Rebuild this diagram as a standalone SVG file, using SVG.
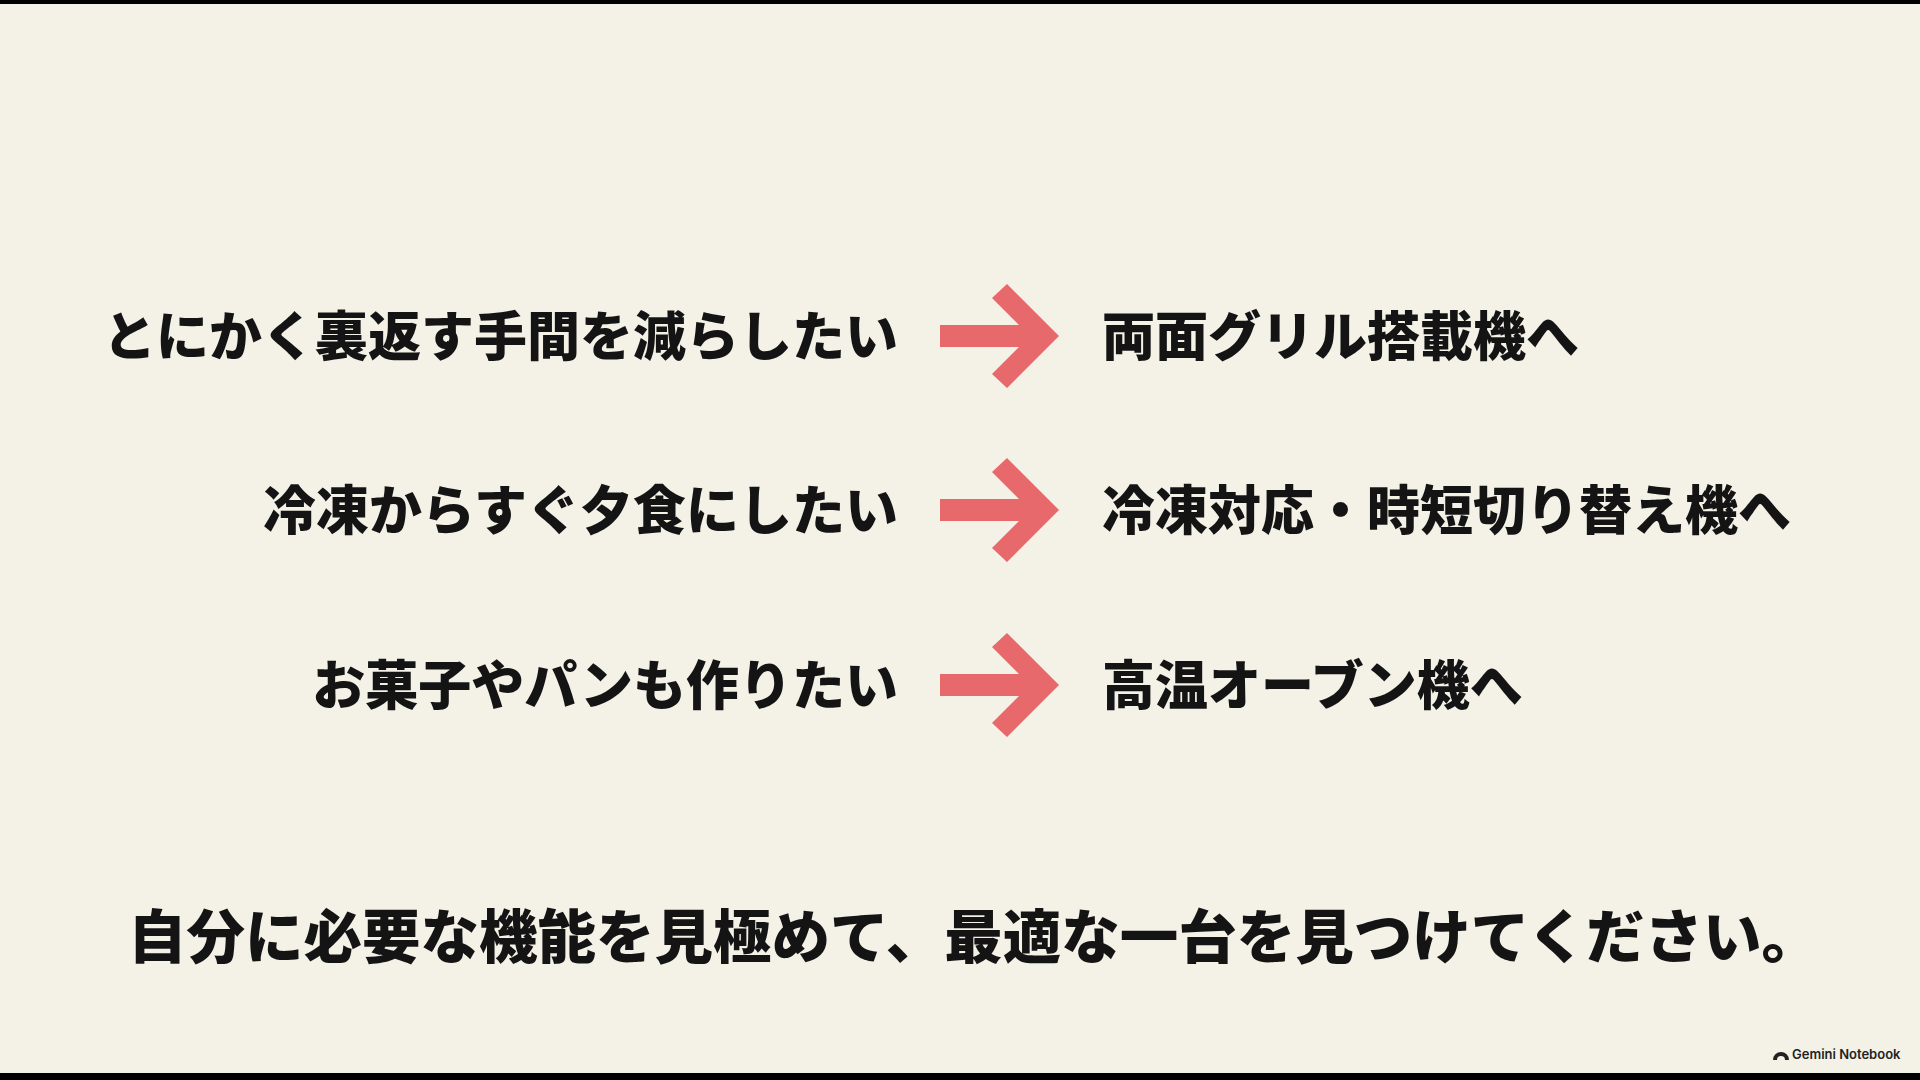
<svg xmlns="http://www.w3.org/2000/svg" width="1920" height="1080" viewBox="0 0 1920 1080">
<defs>
<style>
.t{font-family:"Noto Sans CJK JP","Noto Sans",sans-serif;font-weight:900;fill:#141414}
.l{font-size:53px;text-anchor:end}
.r{font-size:53px}
.a{fill:#e8696b}
</style>
<polygon id="arr" points="940,-11 1019,-11 992,-38 1007,-52 1059,0 1007,52 992,38 1019,11 940,11"/>
</defs>
<rect width="1920" height="1080" fill="#f4f1e7"/>
<rect width="1920" height="4" fill="#000"/>
<rect y="1073" width="1920" height="7" fill="#000"/>
<g id="row1">
<text class="t l" x="898" y="356">とにかく裏返す手間を減らしたい</text>
<text class="t r" x="1102" y="356">両面グリル搭載機へ</text>
</g>
<g id="row2">
<text class="t l" x="898" y="530">冷凍からすぐ夕食にしたい</text>
<text class="t r" x="1102" y="530">冷凍対応・時短切り替え機へ</text>
</g>
<g id="row3">
<text class="t l" x="898" y="705">お菓子やパンも作りたい</text>
<text class="t r" x="1102" y="705">高温オーブン機へ</text>
</g>
<g id="connectors">
<use href="#arr" class="a" y="336"/>
<use href="#arr" class="a" y="510"/>
<use href="#arr" class="a" y="685"/>
</g>
<g id="summary">
<text class="t" x="974" y="958" font-size="58.5" text-anchor="middle">自分に必要な機能を見極めて、最適な一台を見つけてください。</text>
</g>
<g id="logo">
<path d="M1773,1060 a8,8 0 0 1 16,0 h-4 a4,4 0 0 0 -8,0 z" fill="#222"/>
<text x="1792" y="1059" font-family="Inter,'Noto Sans',sans-serif" font-size="13" font-weight="600" fill="#222">Gemini Notebook</text>
</g>
</svg>
